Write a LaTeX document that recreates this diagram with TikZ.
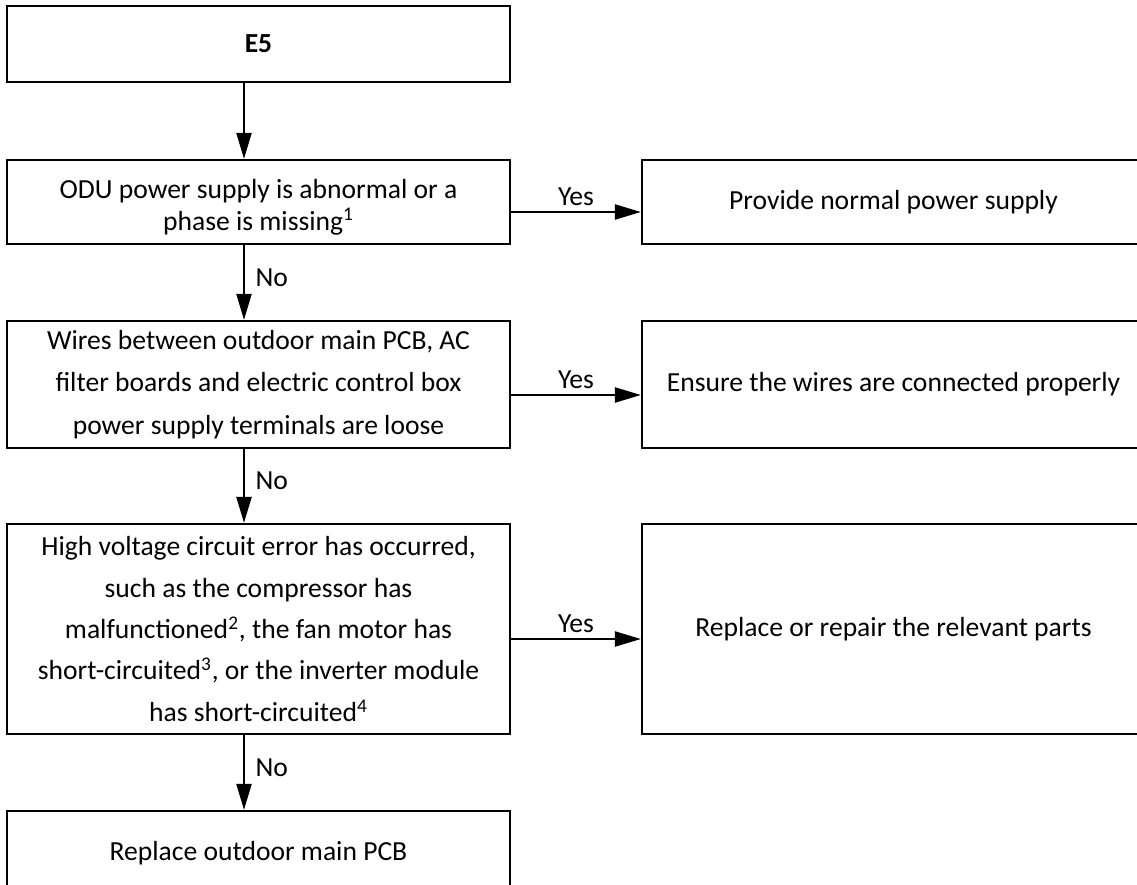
\documentclass[tikz,border=0pt]{standalone}
\usepackage{fontspec}
\setmainfont{Carlito}
\usetikzlibrary{calc, positioning}
\usetikzlibrary{arrows.meta}

\begin{document}
\begin{tikzpicture}[
  font=\fontsize{15.7pt}{23.6pt}\selectfont,
  box/.style={draw, line width=1.25pt, minimum width=10.06cm, align=center, inner sep=0pt},
  arr/.style={line width=1.25pt, -{Triangle[length=0.52cm, width=0.3cm]}}
]
\useasboundingbox (0, 0) rectangle (22.74, -17.7);

\node[box, minimum height=1.52cm, font=\fontsize{15.7pt}{23.6pt}\selectfont\bfseries] (e5) at (5.17, -0.88) {E5};

\node[box, minimum height=1.68cm, font=\fontsize{15.7pt}{18.2pt}\selectfont] (odu) at (5.17, -4.04)
  {\rule{0pt}{0.58cm}ODU power supply is abnormal or a\\ phase is missing\textsuperscript{1}};
\node[box, minimum height=1.68cm] (prov) at (17.87, -4.04) {Provide normal power supply};

\node[box, minimum height=2.54cm, font=\fontsize{15.7pt}{24.2pt}\selectfont] (wires) at (5.17, -7.69)
  {Wires between outdoor main PCB, AC\\ filter boards and electric control box\\ power supply terminals are loose};
\node[box, minimum height=2.54cm] (ensure) at (17.87, -7.69) {Ensure the wires are connected properly};

\node[box, minimum height=4.2cm] (hv) at (5.17, -12.58)
  {High voltage circuit error has occurred,\\ such as the compressor has\\
   malfunctioned\textsuperscript{2}, the fan motor has\\
   short-circuited\textsuperscript{3}, or the inverter module\\
   has short-circuited\textsuperscript{4}};
\node[box, minimum height=4.2cm] (repair) at (17.87, -12.58) {Replace or repair the relevant parts};

\node[box, minimum height=1.68cm] (pcb) at (5.17, -17.06) {Replace outdoor main PCB};

\draw[arr] ([xshift=-0.29cm]e5.south) -- ([xshift=-0.29cm]odu.north);

\draw[arr] ([yshift=-0.2cm]odu.east) -- node[above, inner sep=3pt] {Yes} ([yshift=-0.2cm]prov.west);
\draw[arr] ([xshift=-0.29cm]odu.south) -- node[right, inner sep=6pt, yshift=0.1cm] {No} ([xshift=-0.29cm]wires.north);

\draw[arr] ([yshift=-0.21cm]wires.east) -- node[above, inner sep=3pt] {Yes} ([yshift=-0.21cm]ensure.west);
\draw[arr] ([xshift=-0.29cm]wires.south) -- node[right, inner sep=6pt, yshift=0.1cm] {No} ([xshift=-0.29cm]hv.north);

\draw[arr] ([yshift=-0.2cm]hv.east) -- node[above, inner sep=3pt] {Yes} ([yshift=-0.2cm]repair.west);
\draw[arr] ([xshift=-0.29cm]hv.south) -- node[right, inner sep=6pt, yshift=0.1cm] {No} ([xshift=-0.29cm]pcb.north);

\end{tikzpicture}
\end{document}
